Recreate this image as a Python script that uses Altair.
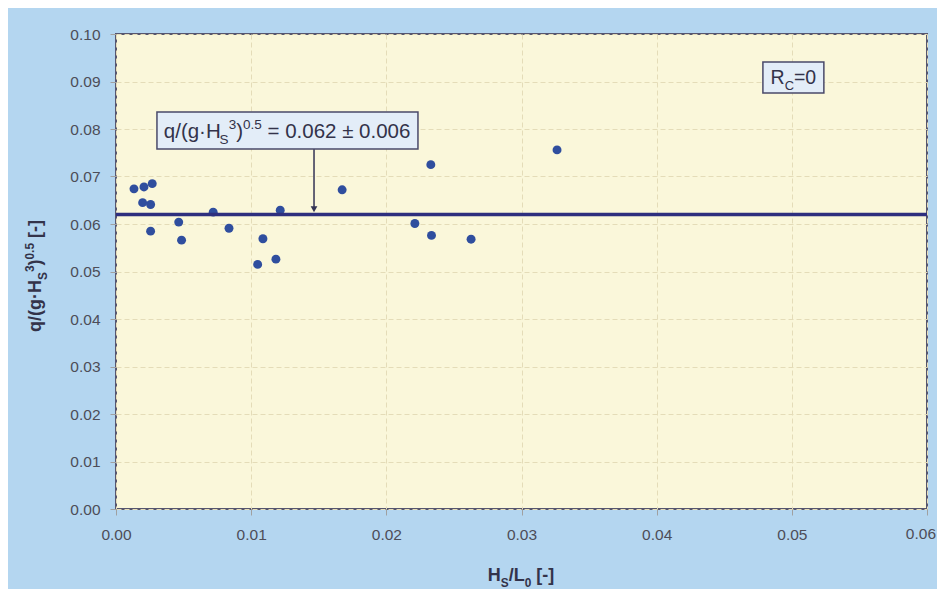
import altair as alt
import pandas as pd

# ---- data ----
hs_l0 = [0.00133, 0.00207, 0.00268, 0.00197, 0.00256, 0.00256, 0.00464, 0.00485,
         0.00719, 0.00836, 0.01087, 0.01048, 0.01183, 0.01215, 0.01673, 0.02329,
         0.02211, 0.02334, 0.02627, 0.03263]
q_star = [0.0674, 0.0678, 0.0685, 0.0645, 0.0641, 0.0585, 0.0604, 0.0566,
          0.0625, 0.0591, 0.0569, 0.0515, 0.0526, 0.0629, 0.0672, 0.0725,
          0.0601, 0.0576, 0.0568, 0.0756]
mean_value = [0.062]
x_ticks = [0.0, 0.01, 0.02, 0.03, 0.04, 0.05, 0.06]
y_ticks = [0.0, 0.01, 0.02, 0.03, 0.04, 0.05, 0.06, 0.07, 0.08, 0.09, 0.10]
x_domain = [0.0, 0.06]
y_domain = [0.0, 0.10]
last_x_label = ["0.06"]

# annotation anchors (data units)
ann_box = {"x": [0.00303], "x2": [0.02234], "y": [0.0836], "y2": [0.0758]}
arrow_x = [0.01465]
arrow_y = [0.0758]
arrow_y2 = [0.0631]
rc_box = {"x": [0.04786], "x2": [0.05237], "y": [0.0941], "y2": [0.0876]}

# rich-text pieces: (text, kind) kind: n=normal, sub, sup; leading spaces become gaps
ann_pieces = [("q/(g·H", "n"), ("S", "sub"), ("3", "sup"), (")", "n"), ("0.5", "sup"),
              (" = 0.062 ± 0.006", "n")]
rc_pieces = [("R", "n"), ("C", "sub"), ("=0", "n")]
xtitle_pieces = [("H", "n"), ("S", "sub"), ("/L", "n"), ("0", "sub"), (" [-]", "n")]
ytitle_pieces = [("q/(g·H", "n"), ("S", "sub"), ("3", "sup"), (")", "n"), ("0.5", "sup"),
                 (" [-]", "n")]

FONT = "Liberation Sans"
BG = "#b4d6f0"
PLOT_BG = "#faf7da"
NAVY = "#2e2f7e"
TXT = "#33334a"
LABEL_COLOR = "#4d4d58"
LABEL_SIZE = 15.5
NB = "\u00a0"

W_REG = {'q': 556, '/': 278, '(': 333, ')': 333, 'g': 556, 'H': 722, 'S': 667, '3': 556,
         '0': 556, '.': 278, '5': 556, ' ': 278, NB: 278, '=': 584, '±': 584, '6': 556,
         '2': 556, '·': 278, '[': 278, ']': 278, '-': 333, 'L': 556, 'R': 722, 'C': 722}
W_BOLD = {'q': 611, '/': 278, '(': 333, ')': 333, 'g': 611, 'H': 722, 'S': 667, '3': 556,
          '0': 556, '.': 278, '5': 556, ' ': 278, NB: 278, '=': 584, '±': 584, '6': 556,
          '2': 556, '·': 333, '[': 333, ']': 333, '-': 333, 'L': 611, 'R': 722, 'C': 722}


def rich_text(pieces, fs, x_enc, y_enc, data=None, bold=False, angle=0, color=TXT):
    table = W_BOLD if bold else W_REG
    small = fs * 0.66
    items = []  # (text, size, shift, lead_gap, width)
    for t, k in pieces:
        if k == "n":
            s, sh = fs, 0
        elif k == "sub":
            s, sh = small, fs * 0.28
        else:
            s, sh = small, -fs * 0.42
        body = t.lstrip(" ")
        lead = (len(t) - len(body)) * 278 / 1000 * s
        body = body.replace(" ", NB)
        w = sum(table.get(c, 556) for c in body) / 1000 * s
        items.append((body, s, sh, lead, w))
    total = sum(i[3] + i[4] for i in items)
    cur = -total / 2
    layers = []
    for body, s, sh, lead, w in items:
        cur += lead
        df = data.copy() if data is not None else pd.DataFrame({"i": [0]})
        df["t"] = body
        kw = dict(font=FONT, fontSize=s, color=color, align="left", baseline="alphabetic",
                  dx=cur, dy=sh + fs * 0.36, fontWeight="bold" if bold else "normal")
        if angle:
            kw["angle"] = angle
        layers.append(alt.Chart(df).mark_text(**kw).encode(x=x_enc, y=y_enc, text="t:N"))
        cur += w
    return layers


points = pd.DataFrame({"x": hs_l0, "y": q_star})

xs = alt.Scale(domain=x_domain, nice=False, zero=False)
ys = alt.Scale(domain=y_domain, nice=False, zero=False)

x_axis = alt.Axis(values=x_ticks, format=".2f", title=None, labelFlush=False,
                  labelPadding=12, tickSize=6,
                  labelExpr="datum.value >= 0.0599 ? '' : datum.label")
y_axis = alt.Axis(values=y_ticks, format=".2f", title=None, labelFlush=False,
                  labelPadding=10, tickSize=6)

pts = alt.Chart(points).mark_circle(size=80, color="#2f4e9e", opacity=1).encode(
    x=alt.X("x:Q", scale=xs, axis=x_axis),
    y=alt.Y("y:Q", scale=ys, axis=y_axis),
)

# last x tick label, nudged so it stays inside the page
last_lbl = alt.Chart(pd.DataFrame({"x": [x_ticks[-1]], "t": last_x_label})).mark_text(
    font=FONT, fontSize=LABEL_SIZE, color=LABEL_COLOR, align="right", baseline="top",
    dx=9).encode(x=alt.X("x:Q", scale=xs), y=alt.value(475 + 6 + 12), text="t:N")

mean_rule = alt.Chart(pd.DataFrame({"y": mean_value})).mark_rule(
    color=NAVY, strokeWidth=3.5).encode(y=alt.Y("y:Q", scale=ys))

box = alt.Chart(pd.DataFrame(ann_box)).mark_rect(
    fill="#e3edf8", stroke="#4a4a6a", strokeWidth=1.5).encode(
    x=alt.X("x:Q", scale=xs), x2="x2", y=alt.Y("y:Q", scale=ys), y2="y2")

ann_anchor = pd.DataFrame({
    "x": [(ann_box["x"][0] + ann_box["x2"][0]) / 2],
    "y": [(ann_box["y"][0] + ann_box["y2"][0]) / 2]})
ann_txt = rich_text(ann_pieces, 20.5, alt.X("x:Q", scale=xs), alt.Y("y:Q", scale=ys),
                    data=ann_anchor)

arrow = alt.Chart(pd.DataFrame({"x": arrow_x, "y": arrow_y, "y2": arrow_y2})).mark_rule(
    color="#333355", strokeWidth=1.5).encode(
    x=alt.X("x:Q", scale=xs), y=alt.Y("y:Q", scale=ys), y2="y2")

head = alt.Chart(pd.DataFrame({"x": arrow_x, "y": arrow_y2})).mark_point(
    shape="triangle-down", filled=True, size=45, color="#333355", opacity=1).encode(
    x=alt.X("x:Q", scale=xs), y=alt.Y("y:Q", scale=ys))

rc = alt.Chart(pd.DataFrame(rc_box)).mark_rect(
    fill="#e3edf8", stroke="#4a4a6a", strokeWidth=1.5).encode(
    x=alt.X("x:Q", scale=xs), x2="x2", y=alt.Y("y:Q", scale=ys), y2="y2")
rc_anchor = pd.DataFrame({
    "x": [(rc_box["x"][0] + rc_box["x2"][0]) / 2],
    "y": [(rc_box["y"][0] + rc_box["y2"][0]) / 2]})
rc_txt = rich_text(rc_pieces, 19.5, alt.X("x:Q", scale=xs), alt.Y("y:Q", scale=ys),
                   data=rc_anchor)

# axis titles as rich text placed just outside the plot area (pixels in plot coords)
xtitle = rich_text(xtitle_pieces, 18, alt.value(405), alt.value(541), bold=True)
ytitle = rich_text(ytitle_pieces, 18, alt.value(-81), alt.value(242), bold=True, angle=270)

chart = alt.layer(pts, last_lbl, mean_rule, arrow, head, box, *ann_txt, rc, *rc_txt,
                  *xtitle, *ytitle).properties(
    width=811, height=475,
    background=BG,
    padding={"left": 108, "top": 26, "right": 10, "bottom": 80},
    autosize=alt.AutoSizeParams(type="none"),
).configure_view(
    fill=PLOT_BG, stroke="#56566f", strokeWidth=2
).configure_axis(
    labelFont=FONT, labelFontSize=LABEL_SIZE, labelColor=LABEL_COLOR,
    gridColor="#e4dcb8", gridDash=[5, 3], gridWidth=1,
    domain=False, tickColor="#a0a0a0",
)

chart.save("out.html", embed_options={"renderer": "svg", "actions": False})
